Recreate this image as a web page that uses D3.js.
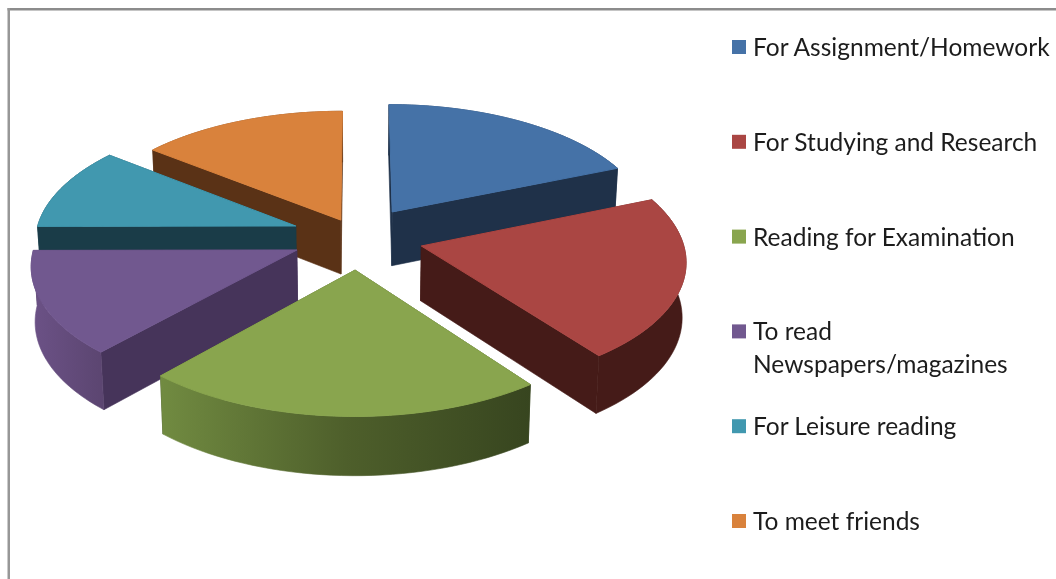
<!DOCTYPE html>
<html>
<head>
<meta charset="utf-8">
<script src="https://cdn.jsdelivr.net/npm/d3@7"></script>
<style>
    body { margin: 0; background: #fff; }
    svg { display: block; }
    .pie { filter: blur(0.5px); }
    .legend { filter: blur(0.4px); }
    .legend text { font-family: Lato, sans-serif; font-size: 24.5px; fill: #1c1c1c; }
</style>
</head>
<body>
<div id="vis-container"></div>
<script>
// Values (percent)
const categories = ["For Assignment/Homework", "For Studying and Research", "Reading for Examination", "To read Newspapers/magazines", "For Leisure reading", "To meet friends"];
const values = [18.7, 21.0, 21.8, 13.3, 10.7, 14.3];
const legendLines = [["For Assignment/Homework"], ["For Studying and Research"], ["Reading for Examination"], ["To read", "Newspapers/magazines"], ["For Leisure reading"], ["To meet friends"]];

const topColors = ["#4572a7", "#aa4643", "#89a54e", "#71588f", "#4198af", "#d9823c"];
const sideColors = ["#1f3149", "#451b18", "#37451f", "#46345a", "#1a3c48", "#5a3216"];
const rimFills = ["#1f3149", "#451b18", "url(#rim-green)", "url(#rim-purple)", "#1a3c48", "#5a3216"];

// How far each slice is pulled out of the pie, in disc radii (x, y)
const pullX = [0.134, 0.241, -0.011, -0.232, -0.241, -0.067];
const pullY = [-0.223, 0.056, 0.244, 0.088, -0.106, -0.155];

let width = 1056;
let height = 579;

// Perspective of the tilted disc, fitted to the slice corners
const cx = 358, cy = 239, rx = 261, ry = 124, persp = 0.105;
const depth = 54.5, shrink = 0.988;

function project(X, Y, low) {
    let s = 1 / (1 - persp * Y);
    let x = cx + rx * X * s;
    let y = cy + ry * Y * s;
    if (low) {
        x = cx + (x - cx) * shrink;
        y += depth * Math.pow(s, 0.6);
    }
    return [x, y];
}

let svg = d3.select("#vis-container").append("svg").attr("width", width).attr("height", height);

// Frame, only top and left show in the crop
svg.append("rect").attr("x", 7.5).attr("y", 8).attr("width", width).attr("height", 2.5).attr("fill", "#8c8c8c");
svg.append("rect").attr("x", 7.5).attr("y", 8).attr("width", 2.5).attr("height", height).attr("fill", "#979797");

let defs = svg.append("defs");
function rimGradient(id, x1, x2, stops) {
    let g = defs.append("linearGradient").attr("id", id).attr("gradientUnits", "userSpaceOnUse")
        .attr("x1", x1).attr("x2", x2).attr("y1", 0).attr("y2", 0);
    stops.forEach((c, i) => g.append("stop").attr("offset", i / (stops.length - 1)).attr("stop-color", c));
}
rimGradient("rim-green", 160, 531, ["#718b41", "#4e5f2b", "#37451f"]);
rimGradient("rim-purple", 30, 105, ["#6c5287", "#5b4570"]);

const pie = d3.pie().sort(null).startAngle(0).endAngle(2 * Math.PI);
const line = d3.line();

const arcs = pie(values).map(d => ({ ...d, ox: pullX[d.index], oy: pullY[d.index] }));

function rimPoint(d, a) {
    return [d.ox + Math.sin(a), d.oy - Math.cos(a)];
}

// Faces of one slice, the ones further back first
function sideFaces(d) {
    let angles = d3.range(0, 41).map(i => d.startAngle + (d.endAngle - d.startAngle) * i / 40);
    let rim = angles.map(a => rimPoint(d, a));
    let wall = a => [[d.ox, d.oy], rimPoint(d, a)];
    let faces = [
        { pts: wall(d.startAngle), fill: sideColors[d.index] },
        { pts: wall(d.endAngle), fill: sideColors[d.index] },
        { pts: rim, fill: rimFills[d.index] }
    ];
    faces.forEach(f => f.meanY = d3.mean(f.pts, p => p[1]));
    return d3.sort(faces, f => f.meanY);
}

function extrude(pts) {
    let up = pts.map(p => project(p[0], p[1], false));
    let down = pts.map(p => project(p[0], p[1], true)).reverse();
    return line(up.concat(down)) + "Z";
}

function topFace(d) {
    let angles = d3.range(0, 61).map(i => d.startAngle + (d.endAngle - d.startAngle) * i / 60);
    let pts = [[d.ox, d.oy]].concat(angles.map(a => rimPoint(d, a)));
    return line(pts.map(p => project(p[0], p[1], false))) + "Z";
}

let slices = svg.append("g").attr("class", "pie")
    .selectAll("g")
    .data(d3.sort(arcs, d => d.oy))
    .join("g");

slices.selectAll("path.side")
    .data(d => sideFaces(d))
    .join("path")
    .attr("class", "side")
    .attr("d", f => extrude(f.pts))
    .attr("fill", f => f.fill)
    .attr("stroke", f => f.fill)
    .attr("stroke-width", 0.6);

slices.append("path")
    .attr("class", "top")
    .attr("d", d => topFace(d))
    .attr("fill", d => topColors[d.index])
    .attr("stroke", d => topColors[d.index])
    .attr("stroke-width", 1);

// Legend
const legendY = d3.scalePoint().domain(categories).range([47, 521]);

let legend = svg.append("g").attr("class", "legend")
    .selectAll("g")
    .data(categories)
    .join("g")
    .attr("transform", d => "translate(732," + legendY(d) + ")");

legend.append("rect")
    .attr("y", -7)
    .attr("width", 14)
    .attr("height", 14)
    .attr("fill", (d, i) => topColors[i]);

legend.append("text")
    .selectAll("tspan")
    .data((d, i) => legendLines[i])
    .join("tspan")
    .attr("x", 21)
    .attr("y", (d, i) => 9 + i * 32.5)
    .text(d => d);
</script>
</body>
</html>
